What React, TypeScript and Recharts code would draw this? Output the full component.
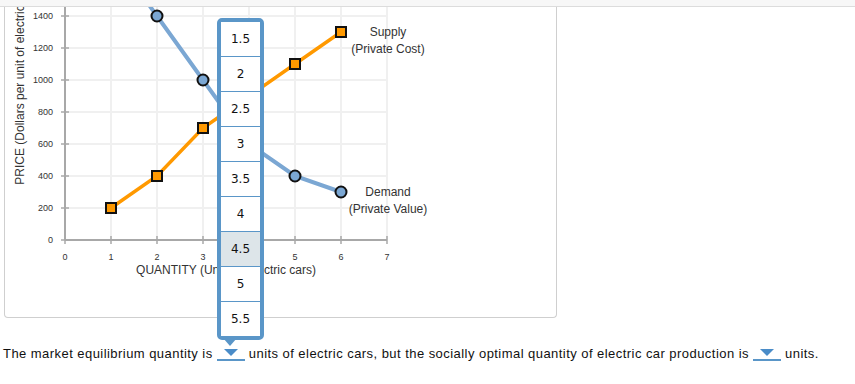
import React from "react";
import {
    CartesianGrid,
    LabelList,
    Line,
    LineChart,
    XAxis,
    YAxis,
} from "recharts";

const quantities = [1, 2, 3, 4, 5, 6];
const supplyPrices = [200, 400, 700, 900, 1100, 1300];
const demandPrices = [1800, 1400, 1000, 600, 400, 300];
const xTicks = [0, 1, 2, 3, 4, 5, 6, 7];
const yTicks = [0, 200, 400, 600, 800, 1000, 1200, 1400, 1600, 1800, 2000];
const menuOptions = ["1.5", "2", "2.5", "3", "3.5", "4", "4.5", "5", "5.5"];
const selectedOption = "4.5";

const data = quantities.map((q, i) => ({ q, supply: supplyPrices[i], demand: demandPrices[i] }));

const ORANGE = "#ff9900";
const BLUE = "#7ba7d3";
const MENU_BLUE = "#5a96c8";
const AXIS = "#a8a8a8";

function XTick({ x, y, payload }: any) {
    return (
        <g>
            <line x1={x} x2={x} y1={y - 4} y2={y + 4} stroke={AXIS} strokeWidth={1.5} />
            <text x={x} y={y + 20} textAnchor="middle" fontSize={9} fill="#333">
                {payload.value}
            </text>
        </g>
    );
}

function YTick({ x, y, payload }: any) {
    return (
        <g>
            <line x1={x - 4} x2={x + 4} y1={y} y2={y} stroke={AXIS} strokeWidth={1.5} />
            <text x={x - 12} y={y + 3} textAnchor="end" fontSize={9} fill="#333">
                {payload.value}
            </text>
        </g>
    );
}

function SquareDot({ cx, cy }: any) {
    if (cx == null || cy == null) return null;
    return <rect x={cx - 5} y={cy - 5} width={10} height={10} fill={ORANGE} stroke="#111" strokeWidth={2} />;
}

function CircleDot({ cx, cy }: any) {
    if (cx == null || cy == null) return null;
    return <circle cx={cx} cy={cy} r={5.5} fill={BLUE} stroke="#111" strokeWidth={2} />;
}

function endLabel(lines: string[], dyFirst: number) {
    return (p: any) => {
        if (p.index !== quantities.length - 1) return null;
        const x = p.x + 47;
        return (
            <text x={x} y={p.y + dyFirst} textAnchor="middle" fontSize={12} fill="#333">
                <tspan x={x}>{lines[0]}</tspan>
                <tspan x={x} dy={17}>{lines[1]}</tspan>
            </text>
        );
    };
}

function YLabel(props: any) {
    const vb = props.viewBox;
    const cx = vb.x + vb.width / 2 - 15;
    const cy = vb.y + vb.height / 2;
    return (
        <text x={cx} y={cy} transform={`rotate(-90 ${cx} ${cy})`} textAnchor="middle" dominantBaseline="central" fontSize={12} fill="#333">
            PRICE (Dollars per unit of electric cars)
        </text>
    );
}

function XLabel(props: any) {
    const vb = props.viewBox;
    return (
        <text x={vb.x + vb.width / 2} y={vb.y + 34} textAnchor="middle" fontSize={12} fill="#333">
            QUANTITY (Units of electric cars)
        </text>
    );
}

function InlineSelect() {
    return (
        <span
            style={{
                display: "inline-block",
                width: 28,
                height: 12,
                borderBottom: `2px solid ${MENU_BLUE}`,
                verticalAlign: -3,
                position: "relative",
                letterSpacing: 0,
            }}
        >
            <span
                style={{
                    position: "absolute",
                    left: 7,
                    top: 2,
                    width: 0,
                    height: 0,
                    borderLeft: "7px solid transparent",
                    borderRight: "7px solid transparent",
                    borderTop: `7px solid #4a8cc8`,
                }}
            />
        </span>
    );
}

export default function App() {
    return (
        <div style={{ position: "relative", width: 855, height: 384, overflow: "hidden", fontFamily: "Arial, 'Liberation Sans', sans-serif", background: "#fff" }}>
            <style>{`body{margin:0}`}</style>
            <div style={{ position: "absolute", left: 0, top: 0, width: 855, height: 6, background: "#f7f7f7", borderBottom: "1px solid #dcdcdc" }} />
            <div
                style={{
                    position: "absolute",
                    left: 4,
                    top: 7,
                    width: 553,
                    height: 311,
                    boxSizing: "border-box",
                    border: "1px solid #cfcfcf",
                    borderTop: "none",
                    borderRadius: "0 0 4px 4px",
                    overflow: "hidden",
                }}
            >
                <div style={{ position: "absolute", left: 0, top: -100 }}>
                    <LineChart width={551} height={420} data={data} margin={{ top: 13, right: 169, left: 0, bottom: 47 }}>
                        <CartesianGrid stroke="#f0f0f0" strokeWidth={2} />
                        <XAxis
                            type="number"
                            dataKey="q"
                            domain={[0, 7]}
                            ticks={xTicks}
                            interval={0}
                            height={40}
                            tickSize={0}
                            tickMargin={0}
                            tick={<XTick />}
                            axisLine={{ stroke: AXIS, strokeWidth: 2 }}
                            tickLine={false}
                            label={{ content: XLabel }}
                        />
                        <YAxis
                            type="number"
                            domain={[0, 2000]}
                            ticks={yTicks}
                            interval={0}
                            width={60}
                            tickSize={0}
                            tickMargin={0}
                            tick={<YTick />}
                            axisLine={{ stroke: AXIS, strokeWidth: 2 }}
                            tickLine={false}
                            label={{ content: YLabel }}
                        />
                        <Line
                            dataKey="demand"
                            stroke={BLUE}
                            strokeWidth={4}
                            dot={<CircleDot />}
                            activeDot={false}
                            isAnimationActive={false}
                        >
                            <LabelList dataKey="demand" content={endLabel(["Demand", "(Private Value)"], 4)} />
                        </Line>
                        <Line
                            dataKey="supply"
                            stroke={ORANGE}
                            strokeWidth={3.5}
                            dot={<SquareDot />}
                            activeDot={false}
                            isAnimationActive={false}
                        >
                            <LabelList dataKey="supply" content={endLabel(["Supply", "(Private Cost)"], 4)} />
                        </Line>
                    </LineChart>
                </div>
            </div>

            <div
                style={{
                    position: "absolute",
                    left: 217,
                    top: 18,
                    width: 47,
                    boxSizing: "border-box",
                    border: `4px solid ${MENU_BLUE}`,
                    borderRadius: 5,
                    background: "#fff",
                    fontFamily: "'DejaVu Sans', Verdana, sans-serif",
                    fontSize: 12,
                    color: "#111",
                }}
            >
                {menuOptions.map((o, i) => (
                    <div
                        key={o}
                        style={{
                            height: 34,
                            lineHeight: "34px",
                            textAlign: "center",
                            borderBottom: i < menuOptions.length - 1 ? `1px solid ${MENU_BLUE}` : "none",
                            background: o === selectedOption ? "#dde5e9" : "#fff",
                        }}
                    >
                        {o}
                    </div>
                ))}
            </div>
            <div
                style={{
                    position: "absolute",
                    left: 223,
                    top: 338,
                    width: 0,
                    height: 0,
                    borderLeft: "7px solid transparent",
                    borderRight: "7px solid transparent",
                    borderTop: `8px solid ${MENU_BLUE}`,
                }}
            />

            <div style={{ position: "absolute", left: 3, top: 346, fontSize: 13, lineHeight: "16px", letterSpacing: 0.45, whiteSpace: "nowrap", color: "#111" }}>
                The market equilibrium quantity is <InlineSelect /> units of electric cars, but the socially optimal quantity of electric car production is{" "}
                <InlineSelect /> units.
            </div>
        </div>
    );
}
